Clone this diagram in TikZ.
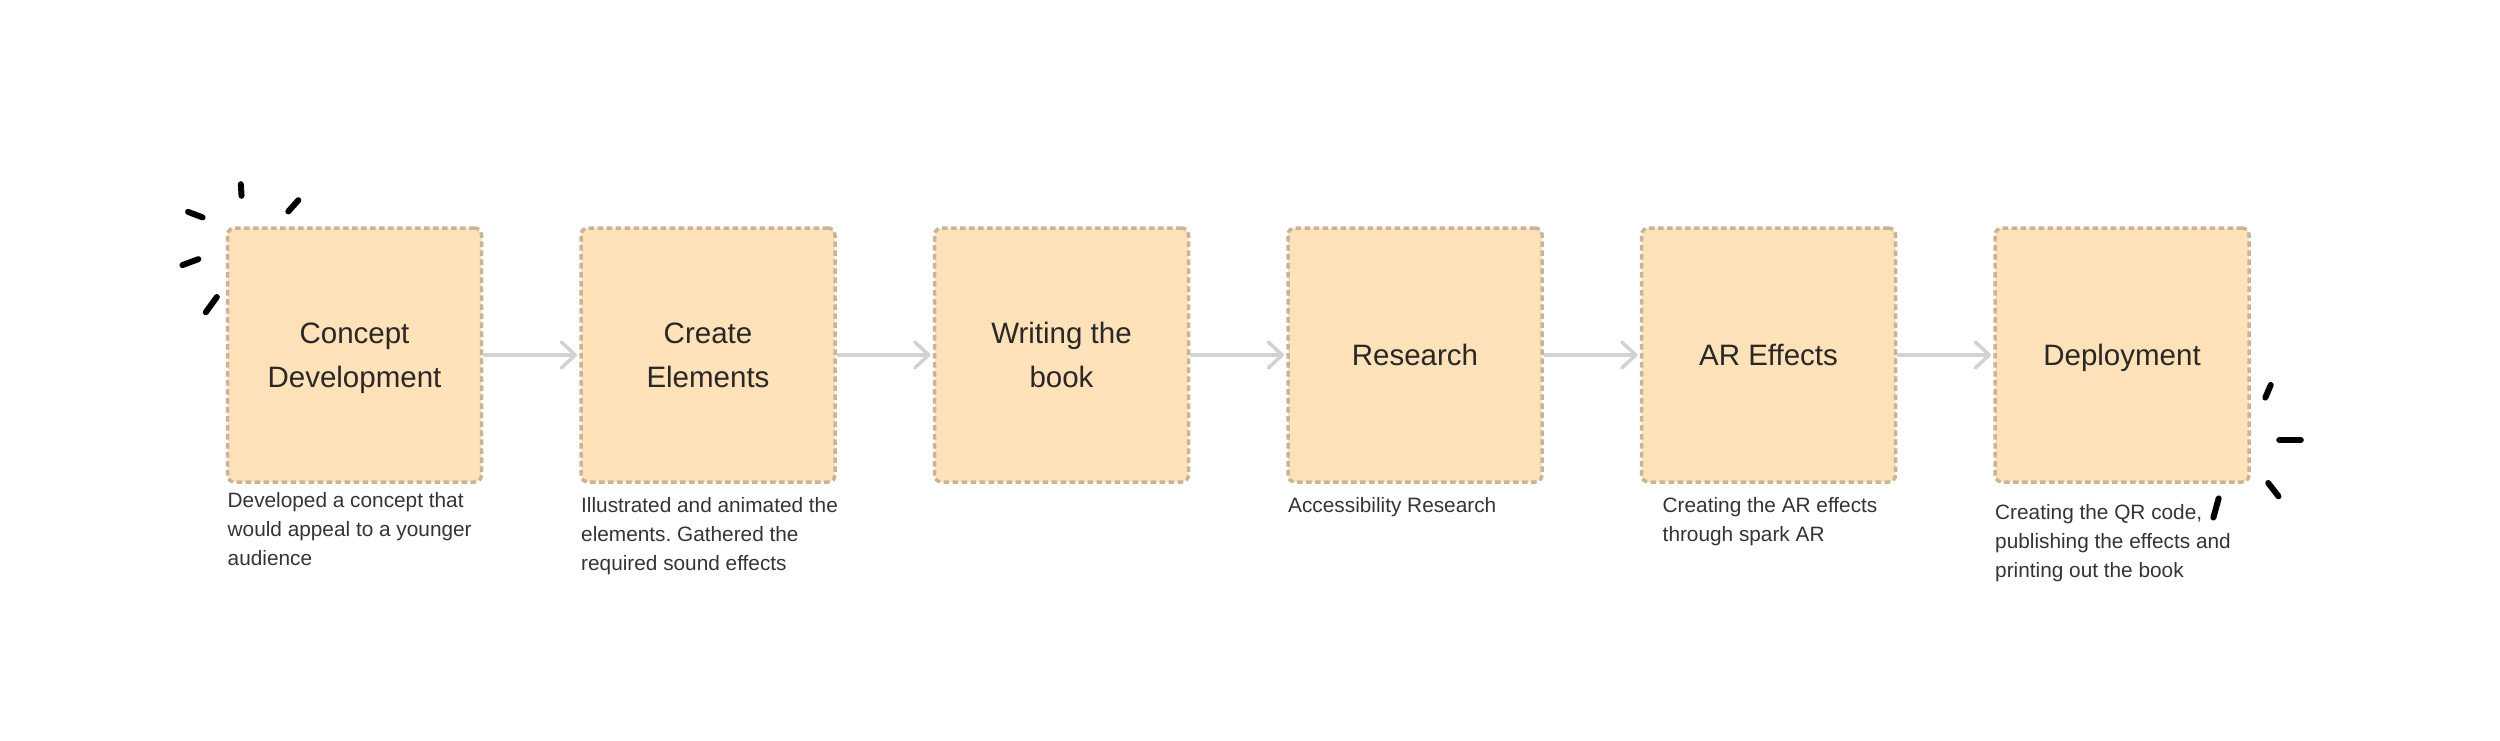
\documentclass[tikz,border=0pt]{standalone}
\usepackage{fontspec}
\setmainfont{Liberation Sans}
\usetikzlibrary{arrows.meta,positioning}
\definecolor{peach}{HTML}{FFE1BA}
\definecolor{tan}{HTML}{C9B497}
\definecolor{arrowgray}{HTML}{D2D2D2}
\definecolor{ink}{HTML}{2A2824}
\definecolor{descink}{HTML}{343434}
\frenchspacing

\begin{document}
\begin{tikzpicture}[x=1pt,y=-1pt,-,>={Straight Barb[length=14pt,width=26pt,line cap=round,line join=round]},node distance=353.5pt,
    main node/.style={rectangle,rounded corners=7pt,draw=tan,fill=peach,line width=3.5pt,dash pattern=on 5.5pt off 3.5pt,minimum size=254pt,inner sep=0pt,outer sep=0pt,align=center,text=ink,text depth=0pt,font=\fontsize{29.5}{44}\selectfont},
    desc node/.style={anchor=north west,inner sep=0pt,align=left,text=descink,font=\fontsize{20.8}{29}\selectfont},
    spark/.style={line width=6pt,line cap=round,shorten >=2.5pt,shorten <=2.5pt}]

    \useasboundingbox (0,0) rectangle (2500,741);

    \node[main node] (0) at (354.5,355) {Concept\\Development};
    \node[main node] (1) [right of = 0] {Create\\Elements};
    \node[main node] (2) [right of = 1] {Writing the\\book};
    \node[main node] (3) [right of = 2] {Research};
    \node[main node] (4) [right of = 3] {AR Effects};
    \node[main node] (5) [right of = 4] {Deployment};

    \node[desc node] (d0) at ([yshift=-10pt]0.south west) {Developed a concept that\\would appeal to a younger\\audience};
    \node[desc node] (d1) at ([yshift=-15pt]1.south west) {Illustrated and animated the\\elements. Gathered the\\required sound effects};
    \node[desc node] (d3) at ([yshift=-15pt]3.south west) {Accessibility Research};
    \node[desc node] (d4) at ([xshift=21pt,yshift=-15pt]4.south west) {Creating the AR effects\\through spark AR};
    \node[desc node] (d5) at ([yshift=-22pt]5.south west) {Creating the QR code,\\publishing the effects and\\printing out the book};

    \path[->,draw=arrowgray,line width=3.5pt,line cap=round,shorten >=4pt,shorten <=3pt]
        (0) edge (1)
        (1) edge (2)
        (2) edge (3)
        (3) edge (4)
        (4) edge (5)
        ;

    % sparks round the first and the last step
    \foreach \xa/\ya/\xb/\yb in {240.7/181.7/241.7/198.3, 300/198.3/286.7/213.3, 185.7/211/205/218.3, 180/266/200.7/258.3, 204.3/314.3/218.3/295,
        2271.7/382.7/2264.3/400, 2276.7/440/2303.3/440, 2266.7/481/2280/498.3, 2219.3/496/2212.7/520}
        \draw[spark] (\xa,\ya) -- (\xb,\yb);
\end{tikzpicture}
\end{document}
